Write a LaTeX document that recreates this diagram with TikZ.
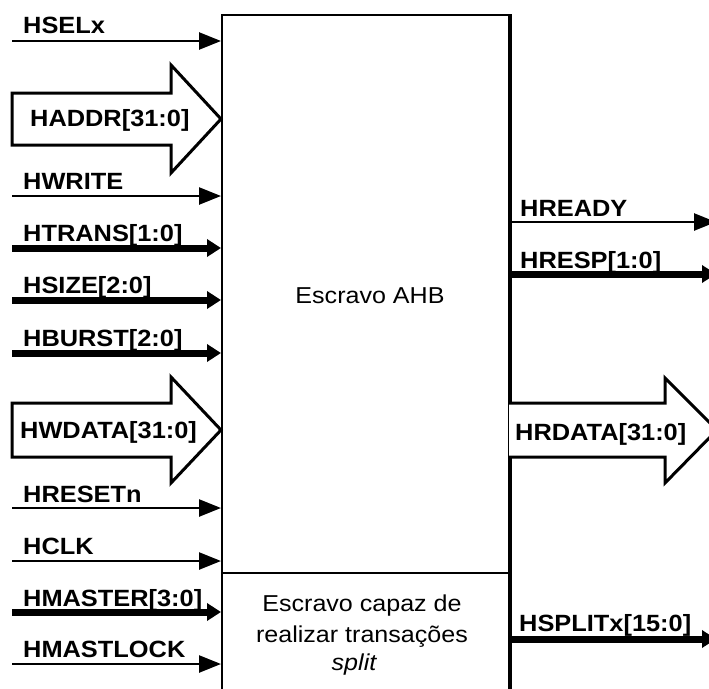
\documentclass[tikz,border=0pt]{standalone}
\usepackage{fontspec}
\setmainfont{Liberation Sans}
\usetikzlibrary{arrows.meta}

% signal names: bold, slightly widened
\newcommand{\signame}[1]{\scalebox{1.08}[1]{#1}}
% block captions: regular, slightly widened
\newcommand{\blockcap}[1]{\scalebox{1.09}[1]{#1}}

\tikzset{
  wire/.style={line width=2.5pt, -{Triangle[length=22pt,width=17pt]}},
  buswire/.style={line width=7pt, -{Triangle[length=14pt,width=17pt]}},
  busarrow/.style={line width=3pt, line join=miter, fill=white},
  lbl/.style={anchor=base west, inner sep=0pt,
    font=\bfseries\fontsize{23.5}{26}\selectfont},
  txt/.style={anchor=base, inner sep=0pt,
    font=\fontsize{23}{26}\selectfont},
}

\begin{document}
\begin{tikzpicture}[x=1pt,y=-1pt]
\useasboundingbox (0,0) rectangle (709,688);
\clip (0,0) rectangle (709,688);

% the slave block
\node[draw, line width=2pt, anchor=north west, inner sep=0pt,
      minimum width=287pt, minimum height=700pt] (box) at (221,14) {};
\draw[line width=3.5pt] (box.north east) -- (box.south east);
\coordinate (split) at (221,573);
\draw[line width=1.8pt] (split) -- (split -| box.east);

\node[txt] (main) at (370,303) {\blockcap{Escravo AHB}};
\node[txt] (sp1) at (362,611) {\blockcap{Escravo capaz de}};
\node[txt] (sp2) at (362,642) {\blockcap{realizar transações}};
\node[txt] (sp3) at (354,670) {\blockcap{\itshape split}};

% ---------- inputs ----------
\coordinate (hsel)   at (12,41);
\coordinate (hwrite) at (12,196);
\coordinate (htrans) at (12,248);
\coordinate (hsize)  at (12,300);
\coordinate (hburst) at (12,353);
\coordinate (hreset) at (12,508);
\coordinate (hclk)   at (12,561);
\coordinate (hmast)  at (12,612);
\coordinate (hlock)  at (12,664);

\draw[wire]    (hsel)   -- (hsel   -| box.west);
\draw[wire]    (hwrite) -- (hwrite -| box.west);
\draw[buswire] (htrans) -- (htrans -| box.west);
\draw[buswire] (hsize)  -- (hsize  -| box.west);
\draw[buswire] (hburst) -- (hburst -| box.west);
\draw[wire]    (hreset) -- (hreset -| box.west);
\draw[wire]    (hclk)   -- (hclk   -| box.west);
\draw[buswire] (hmast)  -- (hmast  -| box.west);
\draw[wire]    (hlock)  -- (hlock  -| box.west);

\node[lbl] (lsel)   at (23,33)  {\signame{HSELx}};
\node[lbl] (lwrite) at (23,189) {\signame{HWRITE}};
\node[lbl] (ltrans) at (23,241) {\signame{HTRANS[1:0]}};
\node[lbl] (lsize)  at (23,293) {\signame{HSIZE[2:0]}};
\node[lbl] (lburst) at (23,346) {\signame{HBURST[2:0]}};
\node[lbl] (lreset) at (23,502) {\signame{HRESETn}};
\node[lbl] (lclk)   at (23,554) {\signame{HCLK}};
\node[lbl] (lmast)  at (23,606) {\signame{HMASTER[3:0]}};
\node[lbl] (llock)  at (23,657) {\signame{HMASTLOCK}};

% wide input buses
\draw[busarrow] (12,93) -- (171,93) -- (171,65) -- (221,119)
  -- (171,173) -- (171,145) -- (12,145) -- cycle;
\node[lbl] (laddr) at (30,126) {\signame{HADDR[31:0]}};

\draw[busarrow] (12,403) -- (171,403) -- (171,377) -- (221,430)
  -- (171,483) -- (171,457) -- (12,457) -- cycle;
\node[lbl] (lwdata) at (20,438) {\signame{HWDATA[31:0]}};

% ---------- outputs ----------
\coordinate (hready) at (716,222);
\coordinate (hresp)  at (716,274);
\coordinate (hsplit) at (716,639);

\draw[wire]    (hready -| box.east) -- (hready);
\draw[buswire] (hresp  -| box.east) -- (hresp);
\draw[buswire] (hsplit -| box.east) -- (hsplit);

\node[lbl] (lready) at (520,216) {\signame{HREADY}};
\node[lbl] (lresp)  at (520,268) {\signame{HRESP[1:0]}};
\node[lbl] (lsplit) at (519,631) {\signame{HSPLITx[15:0]}};

\draw[busarrow] (509,403) -- (665,403) -- (665,378) -- (717,430)
  -- (665,483) -- (665,457) -- (509,457);
\node[lbl] (lrdata) at (515,440) {\signame{HRDATA[31:0]}};
\end{tikzpicture}
\end{document}
